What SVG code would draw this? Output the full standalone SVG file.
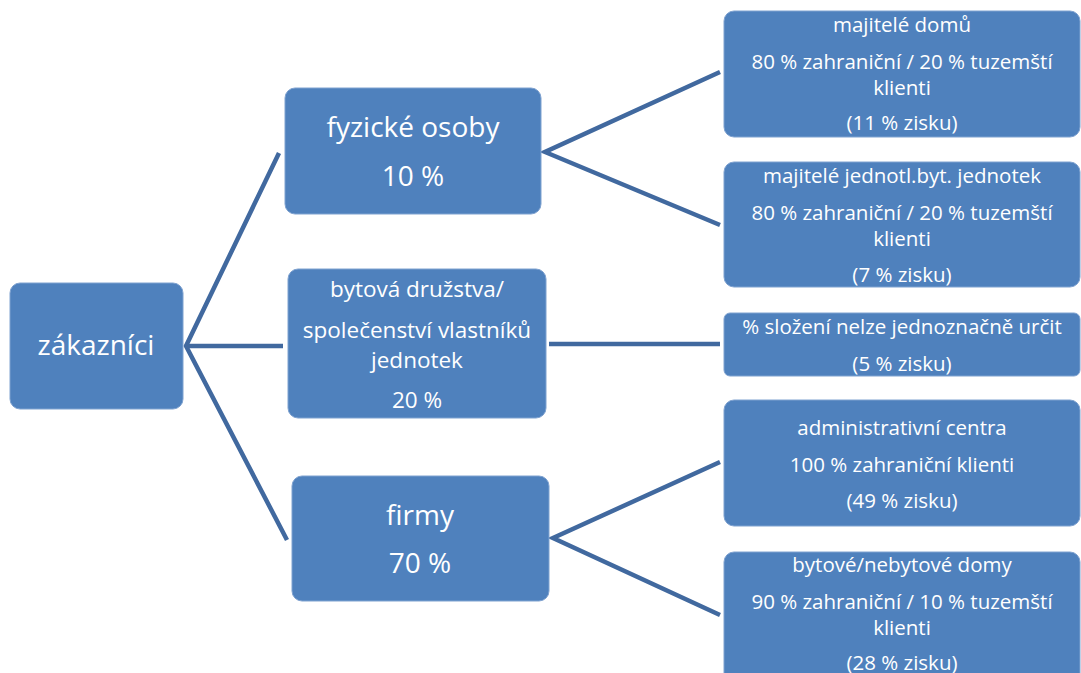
<svg xmlns="http://www.w3.org/2000/svg" width="1081" height="673" viewBox="0 0 1081 673">
<style>
.box{fill:#4F81BD;stroke:#7FA2D0;stroke-width:1}
.t{font-family:"Open Sans","Liberation Sans",sans-serif;fill:#ffffff;text-anchor:middle}
.big{font-size:28px}
.mid{font-size:22.5px}
.sm{font-size:20.5px}
.c{stroke:#41699F;stroke-width:4.5;fill:none;stroke-linejoin:miter}
</style>
<rect width="1081" height="673" fill="#ffffff"/>
<g id="connectors">
<polyline class="c" points="279,153 186,346 287,540"/>
<line class="c" x1="186" y1="346" x2="283" y2="346"/>
<polyline class="c" points="720,72 545,152 720,225"/>
<line class="c" x1="549" y1="344" x2="720" y2="344"/>
<polyline class="c" points="720,462 553,538 720,615"/>
</g>
<g id="n-zakaznici">
<rect class="box" x="10" y="283" width="173" height="126" rx="10"/>
<text class="t big" x="96" y="355">zákazníci</text>
</g>
<g id="n-fyzicke">
<rect class="box" x="285" y="88" width="256" height="126" rx="10"/>
<text class="t big" x="413" y="137">fyzické osoby</text>
<text class="t big" x="413" y="186">10 %</text>
</g>
<g id="n-bytova">
<rect class="box" x="288" y="269" width="258" height="149" rx="10"/>
<text class="t mid" x="417" y="297">bytová družstva/</text>
<text class="t mid" x="417" y="338">společenství vlastníků</text>
<text class="t mid" x="417" y="368">jednotek</text>
<text class="t mid" x="417" y="408">20 %</text>
</g>
<g id="n-firmy">
<rect class="box" x="292" y="476" width="257" height="125" rx="10"/>
<text class="t big" x="420" y="525">firmy</text>
<text class="t big" x="420" y="573">70 %</text>
</g>
<g id="n-majitele-domu">
<rect class="box" x="724" y="11" width="356" height="126" rx="10"/>
<text class="t sm" x="902" y="32">majitelé domů</text>
<text class="t sm" x="902" y="69">80 % zahraniční / 20 % tuzemští</text>
<text class="t sm" x="902" y="95">klienti</text>
<text class="t sm" x="902" y="130">(11 % zisku)</text>
</g>
<g id="n-majitele-jednotl">
<rect class="box" x="724" y="162" width="356" height="125" rx="10"/>
<text class="t sm" x="902" y="183">majitelé jednotl.byt. jednotek</text>
<text class="t sm" x="902" y="220">80 % zahraniční / 20 % tuzemští</text>
<text class="t sm" x="902" y="246">klienti</text>
<text class="t sm" x="902" y="282">(7 % zisku)</text>
</g>
<g id="n-slozeni">
<rect class="box" x="724" y="313" width="356" height="63" rx="6"/>
<text class="t sm" x="902" y="334">% složení nelze jednoznačně určit</text>
<text class="t sm" x="902" y="371">(5 % zisku)</text>
</g>
<g id="n-administrativni">
<rect class="box" x="724" y="400" width="356" height="126" rx="10"/>
<text class="t sm" x="902" y="435">administrativní centra</text>
<text class="t sm" x="902" y="472">100 % zahraniční klienti</text>
<text class="t sm" x="902" y="508">(49 % zisku)</text>
</g>
<g id="n-bytove-nebytove">
<rect class="box" x="724" y="552" width="356" height="135" rx="10"/>
<text class="t sm" x="902" y="572">bytové/nebytové domy</text>
<text class="t sm" x="902" y="609">90 % zahraniční / 10 % tuzemští</text>
<text class="t sm" x="902" y="635">klienti</text>
<text class="t sm" x="902" y="670">(28 % zisku)</text>
</g>
</svg>
